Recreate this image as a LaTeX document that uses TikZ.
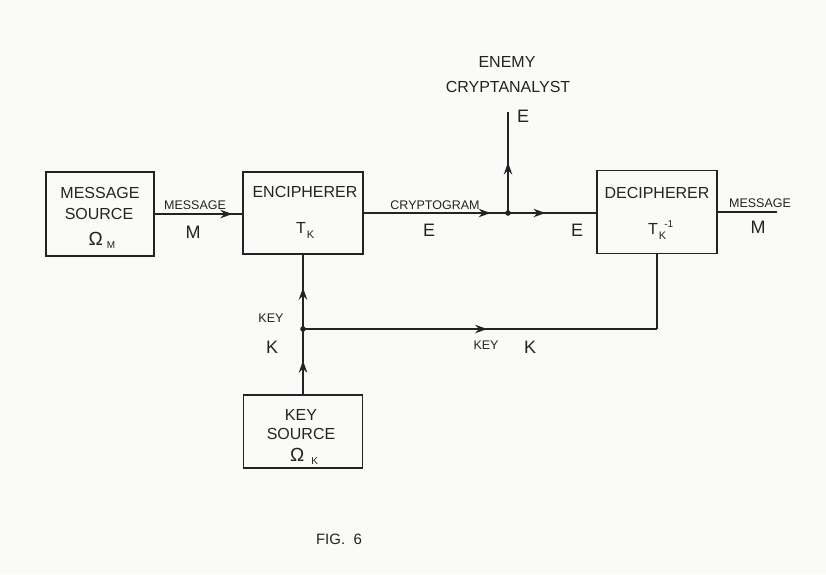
\documentclass[tikz,border=0pt]{standalone}
\usepackage{fontspec}
\setmainfont{Liberation Sans}
\usetikzlibrary{arrows.meta,decorations.markings,calc}
\definecolor{paper}{RGB}{250,250,248}
\definecolor{ink}{RGB}{35,35,35}
\begin{document}
\begin{tikzpicture}[x=1pt,y=-1pt,
  box/.style={draw=ink, line width=1.8pt, inner sep=0pt, outer sep=0pt},
  ln/.style={draw=ink, line width=1.4pt},
  midarrow/.style={postaction={decorate}, decoration={markings,
     mark=at position #1 with {\arrow[ink]{Stealth[length=12pt,width=8.5pt,inset=4pt]}}}},
  boxtxt/.style={text=ink, inner sep=0pt, font=\fontsize{16}{16}\selectfont},
  small/.style={text=ink, inner sep=0pt, font=\fontsize{12.5}{12.5}\selectfont},
  big/.style={text=ink, inner sep=0pt, font=\fontsize{18}{18}\selectfont},
  dot/.style={fill=ink}
]
\fill[paper] (0,0) rectangle (826,574);
\useasboundingbox (0,0) rectangle (826,574);

% boxes
\node[box, minimum width=108pt, minimum height=84pt] (msrc) at (100,214) {};
\node[box, minimum width=120pt, minimum height=82pt] (enc) at (303,213) {};
\node[box, minimum width=120pt, minimum height=83pt] (dec) at (657,212) {};
\node[box, minimum width=119pt, minimum height=73pt] (ksrc) at (303,431.5) {};

% box texts
\node[boxtxt] (msrc1) at (100,193) {MESSAGE};
\node[boxtxt] (msrc2) at (99,214) {SOURCE};
\node[boxtxt, anchor=base] (msrc3) at (102,245) {\fontsize{19}{19}\selectfont Ω\kern4pt\raisebox{-3pt}{\fontsize{10}{10}\selectfont M}};
\node[boxtxt] (enc1) at (305,192) {ENCIPHERER};
\node[boxtxt, anchor=base west] (enc2) at (296,233) {T\kern1pt\raisebox{-5pt}{\fontsize{11}{11}\selectfont K}};
\node[boxtxt] (dec1) at (657,193) {DECIPHERER};
\node[boxtxt, anchor=base west] (dec2) at (648,234) {T\kern1pt\raisebox{-5pt}{\fontsize{11}{11}\selectfont K}\kern-2pt\raisebox{7pt}{\fontsize{10}{10}\selectfont -1}};
\node[boxtxt] (ks1) at (301,415) {KEY};
\node[boxtxt] (ks2) at (301,434) {SOURCE};
\node[boxtxt, anchor=base] (ks3) at (304,461) {\fontsize{19}{19}\selectfont Ω\kern7pt\raisebox{-3pt}{\fontsize{10}{10}\selectfont K}};

% junction coordinates
\coordinate (j) at (508,213);
\coordinate (et) at (508,112);
\coordinate (kj) at (303,329);
\coordinate (kc) at (657,329);
\coordinate (out) at (777,212);

% connectors
\draw[ln, midarrow=0.88] (msrc.east) -- (msrc.east -| enc.west);
\draw[ln, midarrow=0.88] (enc.east) -- (j);
\draw[ln, midarrow=0.42] (j) -- (j -| dec.west);
\draw[ln, midarrow=0.5] (j) -- (et);
\draw[ln] (dec.east) -- (out);
\draw[ln, midarrow=0.52] (ksrc.north) -- (kj);
\draw[ln, midarrow=0.55] (kj) -- (enc.south);
\draw[ln, midarrow=0.52] (kj) -- (kc);
\draw[ln] (kc) -- (dec.south);
\fill[dot] (j) circle (2.8pt);
\fill[dot] (kj) circle (2.8pt);

% labels
\node[small] (lm1) at (195,205) {MESSAGE};
\node[big] (lm2) at (193,232) {M};
\node[small] (lc1) at (435,205) {CRYPTOGRAM};
\node[big] (lc2) at (429,230) {E};
\node[big] (le2) at (577,230) {E};
\node[big] (le3) at (523,116) {E};
\node[boxtxt] (en1) at (507,62) {ENEMY};
\node[boxtxt] (en2) at (508,87) {CRYPTANALYST};
\node[small] (lo1) at (760,203) {MESSAGE};
\node[big] (lo2) at (758,227) {M};
\node[small] (lk1) at (271,318) {KEY};
\node[big] (lk2) at (272,347) {K};
\node[small] (lk3) at (486,345) {KEY};
\node[big] (lk4) at (530,347) {K};
\node[boxtxt, font=\fontsize{15}{15}\selectfont] (fig) at (339,539) {FIG.\ \ 6};
\end{tikzpicture}
\end{document}
